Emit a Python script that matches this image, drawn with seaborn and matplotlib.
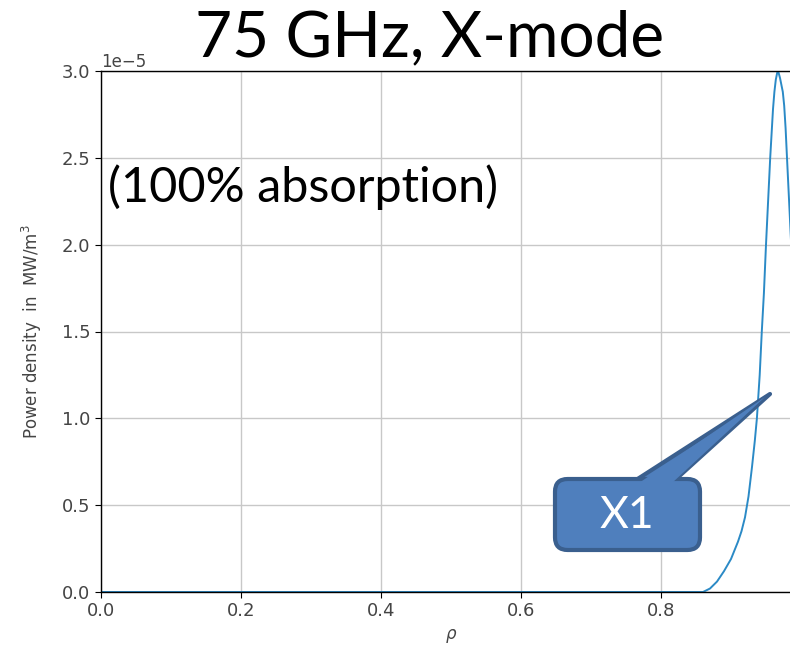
import numpy as np
import pandas as pd
import matplotlib
matplotlib.use("Agg")
import matplotlib.pyplot as plt
import seaborn as sns
from matplotlib.patches import FancyBboxPatch, Polygon

# ---- data ----
rho = [0.0, 0.50, 0.80, 0.86, 0.87, 0.88, 0.89, 0.90, 0.91, 0.915, 0.92,
       0.925, 0.93, 0.934, 0.937, 0.941, 0.944, 0.947, 0.950, 0.953, 0.956,
       0.958, 0.960, 0.962, 0.964, 0.966, 0.967, 0.968, 0.970, 0.972,
       0.974, 0.976, 0.978, 0.980, 0.983, 0.986, 0.990, 1.0]
power = [0.0, 0.0, 0.0, 0.0, 0.02, 0.06, 0.12, 0.19, 0.29, 0.35, 0.43,
         0.55, 0.72, 0.87, 1.0, 1.25, 1.5, 1.72, 2.0, 2.25, 2.5,
         2.64, 2.78, 2.88, 2.95, 2.99, 3.0, 2.99, 2.96, 2.92,
         2.88, 2.8, 2.67, 2.5, 2.25, 2.0, 1.6, 0.8]
scale = 1e-5
xticks = [0.0, 0.2, 0.4, 0.6, 0.8]
yticks = [0.0, 0.5, 1.0, 1.5, 2.0, 2.5, 3.0]

title = "75 GHz, X-mode"
note = "(100% absorption)"
callout = "X1"

df = pd.DataFrame({"rho": rho, "P": np.array(power) * scale})

sns.set_style("ticks")
plt.rcParams["font.family"] = ["DejaVu Sans"]

W, H = 790, 649
fig = plt.figure(figsize=(W / 100, H / 100), dpi=100)
left, bottom, top = 101, 592, 71
ax = fig.add_axes([left / W, (H - bottom) / H, 700 / W, (bottom - top) / H])

sns.lineplot(data=df, x="rho", y="P", ax=ax, color="#2b8ac6", linewidth=1.4)
ax.set_xlim(0, 1.0)
ax.set_ylim(0, 3.0e-5)
ax.set_xticks(xticks)
ax.set_yticks(np.array(yticks) * scale)
ax.grid(True, color="#c8c8c8", linewidth=1.0)
for s in ax.spines.values():
    s.set_color("black")
    s.set_linewidth(1.0)
ax.tick_params(labelsize=13, labelcolor="#444444", color="black", length=4)
ax.yaxis.get_offset_text().set_fontsize(12)
ax.yaxis.get_offset_text().set_color("#444444")
ax.set_xlabel(r"$\rho$", fontsize=12, color="#444444", labelpad=5)
ax.set_ylabel(r"Power density  in  MW/m$^3$", fontsize=12, color="#444444",
              labelpad=13)

fig.text(430 / W, 1 - 38 / H, title, fontsize=46, family="Lato",
         color="black", ha="center", va="center")
fig.text(108 / W, 1 - 187 / H, note, fontsize=35, family="Lato",
         color="black", ha="left", va="center")

# callout (pixel coords -> figure fraction)
def f(x, y):
    return (x / W, 1 - y / H)

face = "#4f7fbd"
edge = "#3a5f8e"
tail = [f(636, 480), f(770, 394), f(675, 480)]
fig.patches.append(Polygon(tail, closed=True, transform=fig.transFigure,
                           facecolor=face, edgecolor=edge, linewidth=3,
                           joinstyle="round", zorder=5))
bx0, by0 = f(555, 550)
bx1, by1 = f(700, 479)
box = FancyBboxPatch((bx0, by0), bx1 - bx0, by1 - by0,
                     boxstyle="round,pad=0,rounding_size=0.016",
                     transform=fig.transFigure, facecolor=face,
                     edgecolor=edge, linewidth=3, zorder=6,
                     mutation_aspect=W / H)
fig.patches.append(box)
cover = [f(639, 483), f(765, 397), f(672, 483)]
fig.patches.append(Polygon(cover, closed=True, transform=fig.transFigure,
                           facecolor=face, edgecolor="none", zorder=7))
fig.text(627 / W, 1 - 516 / H, callout, fontsize=32, family="Lato",
         color="white", ha="center", va="center", zorder=8)

fig.savefig("out.png", dpi=100)
